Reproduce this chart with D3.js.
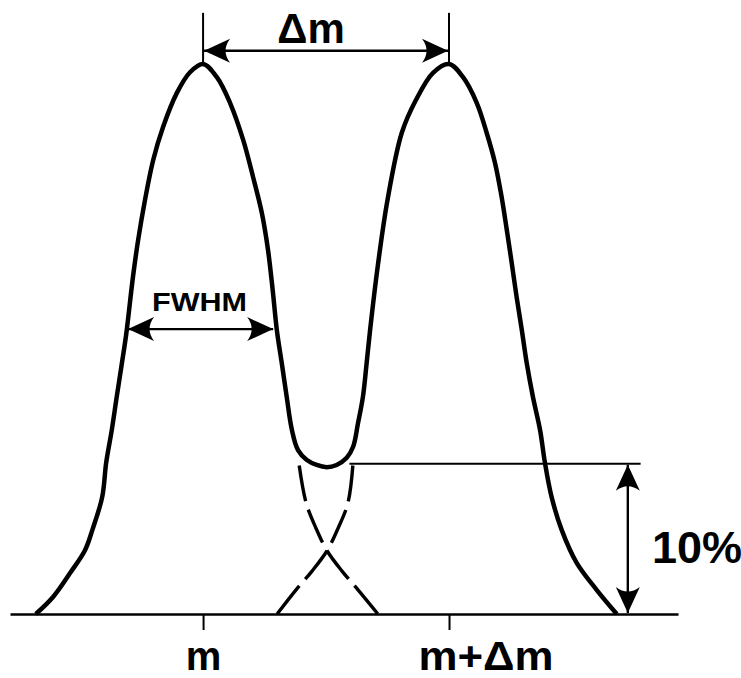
<!DOCTYPE html>
<html>
<head>
<meta charset="utf-8">
<script src="https://cdn.jsdelivr.net/npm/d3@7"></script>
<style>
  body { margin: 0; background: #fff; }
  svg text { font-family: "Liberation Sans", Arial, sans-serif; font-weight: bold; fill: #000; }
</style>
</head>
<body>
<svg id="chart"></svg>
<script>
// x in units of delta m (m = 0), y in % of peak height
var outlineX = [-0.68, -0.61, -0.54, -0.48, -0.45, -0.41, -0.394, -0.371, -0.351, -0.33, -0.313, -0.285, -0.264, -0.236, -0.203, -0.163, -0.107, -0.053, 0,
  0.056, 0.11, 0.163, 0.203, 0.239, 0.264, 0.283, 0.3, 0.32, 0.34, 0.361, 0.386, 0.422, 0.462, 0.503, 0.543, 0.584, 0.61, 0.63, 0.65, 0.665, 0.679, 0.711, 0.75, 0.808, 0.866, 0.935, 1.0,
  1.057, 1.113, 1.153, 1.187, 1.214, 1.235, 1.255, 1.275, 1.296, 1.316, 1.341, 1.37, 1.39, 1.417, 1.458, 1.519, 1.6, 1.682];
var outlineY = [0, 3.1, 7.5, 11.6, 15.3, 21.3, 27.5, 33.5, 39.5, 45.6, 50.7, 61.3, 68.0, 75.3, 82.5, 88.5, 94.7, 98.5, 100,
  97.6, 92.9, 86.2, 79.5, 72.9, 66.2, 58.9, 51.6, 45.6, 39.5, 33.5, 29.8, 28.0, 27.1, 26.7, 27.1, 28.4, 30.4, 34.7, 39.5, 45.6, 51.6, 63.5, 75.3, 87.5, 93.5, 98.4, 100,
  97.6, 92.9, 87.5, 82.0, 75.8, 69.8, 63.8, 57.6, 51.6, 45.6, 39.5, 33.5, 27.5, 21.3, 15.3, 9.3, 4.4, 0];

// hidden tails of each peak below the valley
var tailLeftX = [0.391, 0.419, 0.459, 0.504, 0.565, 0.63, 0.711];
var tailLeftY = [27.0, 20.2, 15.6, 11.5, 7.8, 4.4, 0];
var tailRightX = [0.609, 0.589, 0.549, 0.504, 0.443, 0.378, 0.301];
var tailRightY = [27.0, 20.2, 15.6, 11.5, 7.8, 4.4, 0];

var tickValues = [0, 1];
var tickLabels = ["m", "m+\u0394m"];

var peakCenters = [0, 1];
var fwhmSpan = [-0.305, 0.285];
var fwhmLevel = 51.8;
var valleyLevel = 27.3;
var deltaLevel = 102.4;
var markerTop = 109.3;
var valleyLineSpan = [0.595, 1.779];
var valleyArrowX = 1.727;

var w = 741;
var h = 678;

var svg = d3.select("#chart")
  .attr("width", w)
  .attr("height", h);

var x = d3.scaleLinear().domain([-0.785, 1.931]).range([10, 678]);
var y = d3.scaleLinear().domain([0, 100]).range([614, 64]);

// arrow head used on every dimension line
svg.append("defs").append("marker")
  .attr("id", "head")
  .attr("viewBox", "-27 -13 29 26")
  .attr("refX", 0)
  .attr("refY", 0)
  .attr("markerWidth", 29)
  .attr("markerHeight", 26)
  .attr("markerUnits", "userSpaceOnUse")
  .attr("orient", "auto-start-reverse")
  .append("path")
  .attr("d", "M0,0 L-26,-12 Q-17,0 -26,12 Z")
  .attr("fill", "#000");

function zip(xs, ys){
  return xs.map(function(v, i){ return [v, ys[i]]; });
}

var line = d3.line()
  .x(function(d){ return x(d[0]); })
  .y(function(d){ return y(d[1]); })
  .curve(d3.curveCatmullRom.alpha(0.5));

// baseline axis with m and m+dm ticks
var axis = d3.axisBottom(x)
  .tickValues(tickValues)
  .tickFormat(function(d, i){ return tickLabels[i]; })
  .tickSize(16)
  .tickSizeOuter(0);

var gAxis = svg.append("g")
  .attr("transform", "translate(0," + y(0) + ")")
  .call(axis);
gAxis.select(".domain").attr("stroke", "#000").attr("stroke-width", 2.6);
gAxis.selectAll(".tick line").attr("stroke", "#000").attr("stroke-width", 2);
gAxis.selectAll(".tick text")
  .attr("y", 56)
  .attr("dy", 0)
  .style("font-size", "40px")
  .style("font-family", "'Liberation Sans', Arial, sans-serif")
  .style("font-weight", "bold")
  .attr("fill", "#000");
// second label sits to the right of its tick, as in the drawing
gAxis.selectAll(".tick text")
  .filter(function(d){ return d === 1; })
  .attr("text-anchor", "start")
  .attr("x", -31)
  .attr("textLength", 135)
  .attr("lengthAdjust", "spacingAndGlyphs");

// dashed tails
[zip(tailLeftX, tailLeftY), zip(tailRightX, tailRightY)].forEach(function(t){
  svg.append("path")
    .attr("d", line(t))
    .attr("fill", "none")
    .attr("stroke", "#000")
    .attr("stroke-width", 3.4)
    .attr("stroke-dasharray", "36 9");
});

// combined spectrum
svg.append("path")
  .attr("d", line(zip(outlineX, outlineY)))
  .attr("fill", "none")
  .attr("stroke", "#000")
  .attr("stroke-width", 4.5)
  .attr("stroke-linejoin", "round");

// vertical markers above peaks
svg.selectAll(".pk")
  .data(peakCenters)
  .enter()
  .append("line")
  .attr("x1", function(d){ return x(d); })
  .attr("x2", function(d){ return x(d); })
  .attr("y1", y(markerTop))
  .attr("y2", y(100))
  .attr("stroke", "#000")
  .attr("stroke-width", 2);

function arrow(x1, y1, x2, y2){
  svg.append("line")
    .attr("x1", x1).attr("y1", y1)
    .attr("x2", x2).attr("y2", y2)
    .attr("stroke", "#000")
    .attr("stroke-width", 2.4)
    .attr("marker-start", "url(#head)")
    .attr("marker-end", "url(#head)");
}

arrow(x(peakCenters[0]) + 1, y(deltaLevel), x(peakCenters[1]) - 1, y(deltaLevel));
arrow(x(fwhmSpan[0]), y(fwhmLevel), x(fwhmSpan[1]), y(fwhmLevel));

// valley level line and 10% arrow
svg.append("line")
  .attr("x1", x(valleyLineSpan[0]))
  .attr("x2", x(valleyLineSpan[1]))
  .attr("y1", y(valleyLevel))
  .attr("y2", y(valleyLevel))
  .attr("stroke", "#000")
  .attr("stroke-width", 2);
arrow(x(valleyArrowX), y(valleyLevel) + 1, x(valleyArrowX), y(0) - 1);

// labels
svg.append("text")
  .attr("x", x(0.5) - 15)
  .attr("y", 43)
  .attr("text-anchor", "middle")
  .style("font-size", "42px")
  .text("\u0394m");

svg.append("text")
  .attr("x", 152)
  .attr("y", 311)
  .attr("textLength", 95)
  .attr("lengthAdjust", "spacingAndGlyphs")
  .style("font-size", "25px")
  .text("FWHM");

svg.append("text")
  .attr("x", 652)
  .attr("y", 563)
  .style("font-size", "45px")
  .text("10%");
</script>
</body>
</html>
